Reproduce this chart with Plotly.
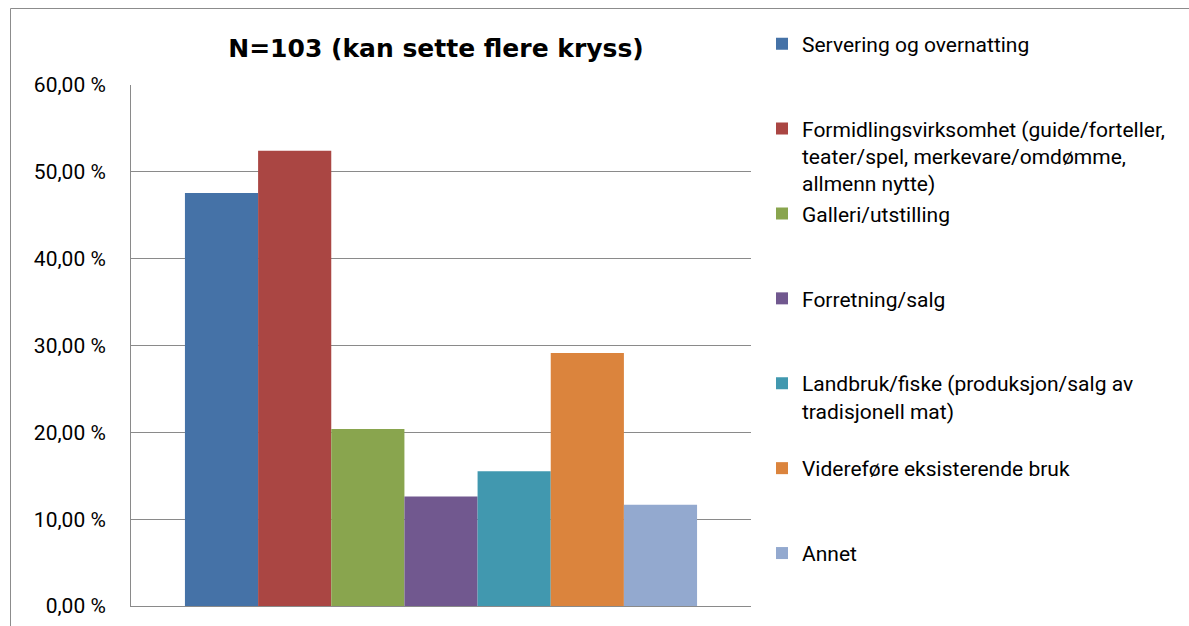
import plotly.graph_objects as go

title = "N=103 (kan sette flere kryss)"
categories = [
    "Servering og overnatting",
    "Formidlingsvirksomhet (guide/forteller,<br>teater/spel, merkevare/omdømme,<br>allmenn nytte)",
    "Galleri/utstilling",
    "Forretning/salg",
    "Landbruk/fiske (produksjon/salg av<br>tradisjonell mat)",
    "Videreføre eksisterende bruk",
    "Annet",
]
values = [47.57, 52.43, 20.39, 12.62, 15.53, 29.13, 11.65]
colors = ["#4572A7", "#AA4643", "#89A54E", "#71588F", "#4198AF", "#DB843D", "#93A9CF"]
group_label = [""]
y_ticks = [0, 10, 20, 30, 40, 50, 60]
y_tick_labels = ["0,00 %", "10,00 %", "20,00 %", "30,00 %", "40,00 %", "50,00 %", "60,00 %"]

W, H = 1189, 626
L, R, T, B = 131, 751, 85, 606
pw, ph = R - L, B - T

def px_x(p):
    return (p - L) / pw

def px_y(p):
    return (B - p) / ph

fig = go.Figure()
for i, (name, v, c) in enumerate(zip(categories, values, colors)):
    nlines = name.count("<br>") + 1
    padded = name + "<br> " * (3 - nlines)
    fig.add_trace(go.Bar(
        x=group_label, y=[v], name=padded, marker=dict(color=c, line=dict(width=0)),
        legendgroup=f"g{i}",
    ))

grid = "#8a8a8a"
font_fam = "Roboto, Liberation Sans, sans-serif"
fig.update_layout(
    width=W, height=H,
    margin=dict(l=L, r=W - R, t=T, b=H - B, pad=0, autoexpand=False),
    paper_bgcolor="white", plot_bgcolor="white",
    barmode="group", bargap=0.174, bargroupgap=0,
    font=dict(family=font_fam, size=20, color="#000000"),
    title=dict(text=f"<b>{title}</b>", x=px_x(436), xref="paper", xanchor="center",
               y=1 - 48 / H, yanchor="middle",
               font=dict(family="DejaVu Sans, Verdana, sans-serif", size=25, color="#000000")),
    xaxis=dict(showticklabels=False, showline=True, linecolor=grid, linewidth=1,
               showgrid=False, ticks="", zeroline=False),
    yaxis=dict(range=[0, 60], tickmode="array", tickvals=y_ticks, ticktext=y_tick_labels,
               showline=True, linecolor=grid, linewidth=1, showgrid=True,
               gridcolor=grid, gridwidth=1, zeroline=False, ticks="",
               ticklabelstandoff=20,
               tickfont=dict(family=font_fam, size=21, color="#000000")),
    legend=dict(x=px_x(762), xanchor="left", yref="container", y=1 - 23.5 / H, yanchor="top",
                valign="top", traceorder="grouped", tracegroupgap=0, maxheight=H,
                font=dict(family=font_fam, size=21, color="#000000"),
                bgcolor="rgba(0,0,0,0)", borderwidth=0),
    showlegend=True,
    shapes=[dict(type="rect", xref="paper", yref="paper",
                 x0=px_x(10.5), x1=px_x(1250), y0=px_y(700), y1=px_y(8.5),
                 line=dict(color="#8c8c8c", width=1), fillcolor="rgba(0,0,0,0)",
                 layer="below")],
)

fig.write_html("out.html", config={"displayModeBar": False},
               post_script="document.body.style.margin='0';")
